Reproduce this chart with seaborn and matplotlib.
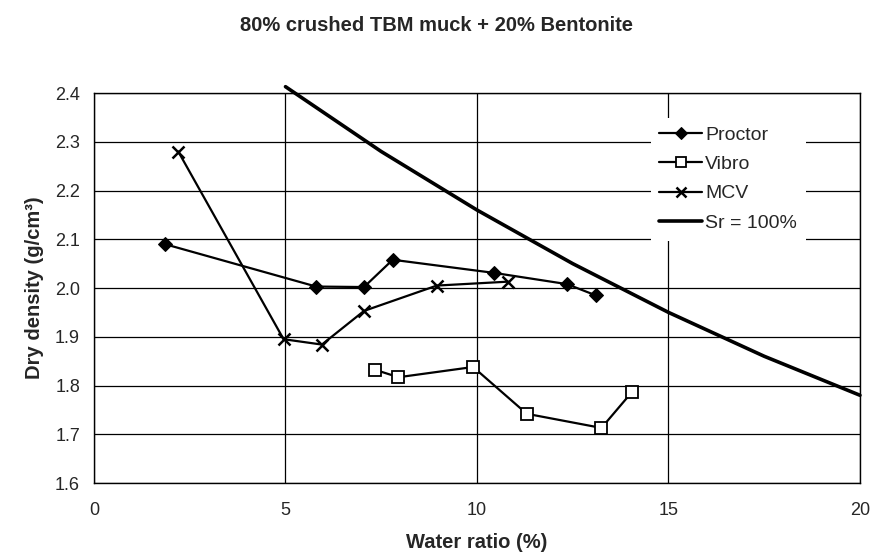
import pandas as pd
import matplotlib
matplotlib.use('Agg')
import matplotlib.pyplot as plt
import seaborn as sns

# Values
proctor_w = [1.85, 5.8, 7.05, 7.8, 10.45, 12.35, 13.1]
proctor_d = [2.09, 2.003, 2.002, 2.058, 2.031, 2.008, 1.985]

vibro_w = [7.35, 7.95, 9.9, 11.3, 13.25, 14.05]
vibro_d = [1.832, 1.817, 1.838, 1.742, 1.713, 1.787]

mcv_w = [2.2, 4.95, 5.95, 7.05, 8.95, 10.8]
mcv_d = [2.28, 1.895, 1.884, 1.953, 2.005, 2.013]

sr_w = [5, 7.5, 10, 12.5, 15, 17.5, 20]
sr_d = [2.413, 2.28, 2.16, 2.05, 1.95, 1.86, 1.78]

sns.set_style('white')
plt.rcParams['font.family'] = ['Liberation Sans', 'DejaVu Sans']

fig = plt.figure(figsize=(8.72, 5.55), dpi=100)
ax = fig.add_axes([0.1078, 0.1297, 0.8784, 0.7027])

# Data series
sns.lineplot(x=proctor_w, y=proctor_d, sort=False, color='black', lw=1.6,
             marker='D', markersize=7, markerfacecolor='black', markeredgecolor='black',
             label='Proctor', ax=ax)
sns.lineplot(x=vibro_w, y=vibro_d, sort=False, color='black', lw=1.6,
             marker='s', markersize=8, markerfacecolor='white', markeredgecolor='black',
             markeredgewidth=1.3, label='Vibro', ax=ax)
sns.lineplot(x=mcv_w, y=mcv_d, sort=False, color='black', lw=1.6,
             marker='x', markersize=9, markeredgewidth=1.8, markeredgecolor='black',
             label='MCV', ax=ax)
sns.lineplot(x=sr_w, y=sr_d, sort=False, color='black', lw=2.6,
             label='Sr = 100%', ax=ax)
ax.lines[-1].set_clip_on(False)

# Axes
ax.set_xlim(0, 20)
ax.set_ylim(1.6, 2.4)
ax.set_xticks([0, 5, 10, 15, 20])
ax.set_yticks([1.6, 1.7, 1.8, 1.9, 2.0, 2.1, 2.2, 2.3, 2.4])
ax.set_yticklabels(['1.6', '1.7', '1.8', '1.9', '2.0', '2.1', '2.2', '2.3', '2.4'])
ax.grid(True, color='black', lw=0.9)
ax.set_axisbelow(True)
for s in ax.spines.values():
    s.set_color('black')
    s.set_linewidth(1.0)
ax.tick_params(axis='both', direction='out', length=4, width=1, color='black',
               labelsize=13)
ax.tick_params(axis='x', pad=10)
ax.tick_params(axis='y', pad=6)

ax.set_xlabel('Water ratio (%)', fontsize=14.5, fontweight='bold', labelpad=10)
ax.set_ylabel('Dry density (g/cm³)', fontsize=14.5, fontweight='bold', labelpad=8)
fig.suptitle('80% crushed TBM muck + 20% Bentonite', fontsize=14.5, fontweight='bold',
             x=0.5, y=0.972)

leg = ax.legend(loc='upper left', bbox_to_anchor=(0.714, 0.962), fontsize=14,
                frameon=True, fancybox=False, framealpha=1, facecolor='white',
                edgecolor='none', handlelength=2.2, handletextpad=0.15,
                labelspacing=0.6, borderpad=0.45, markerscale=0.85)

fig.savefig('out.png', dpi=100)
